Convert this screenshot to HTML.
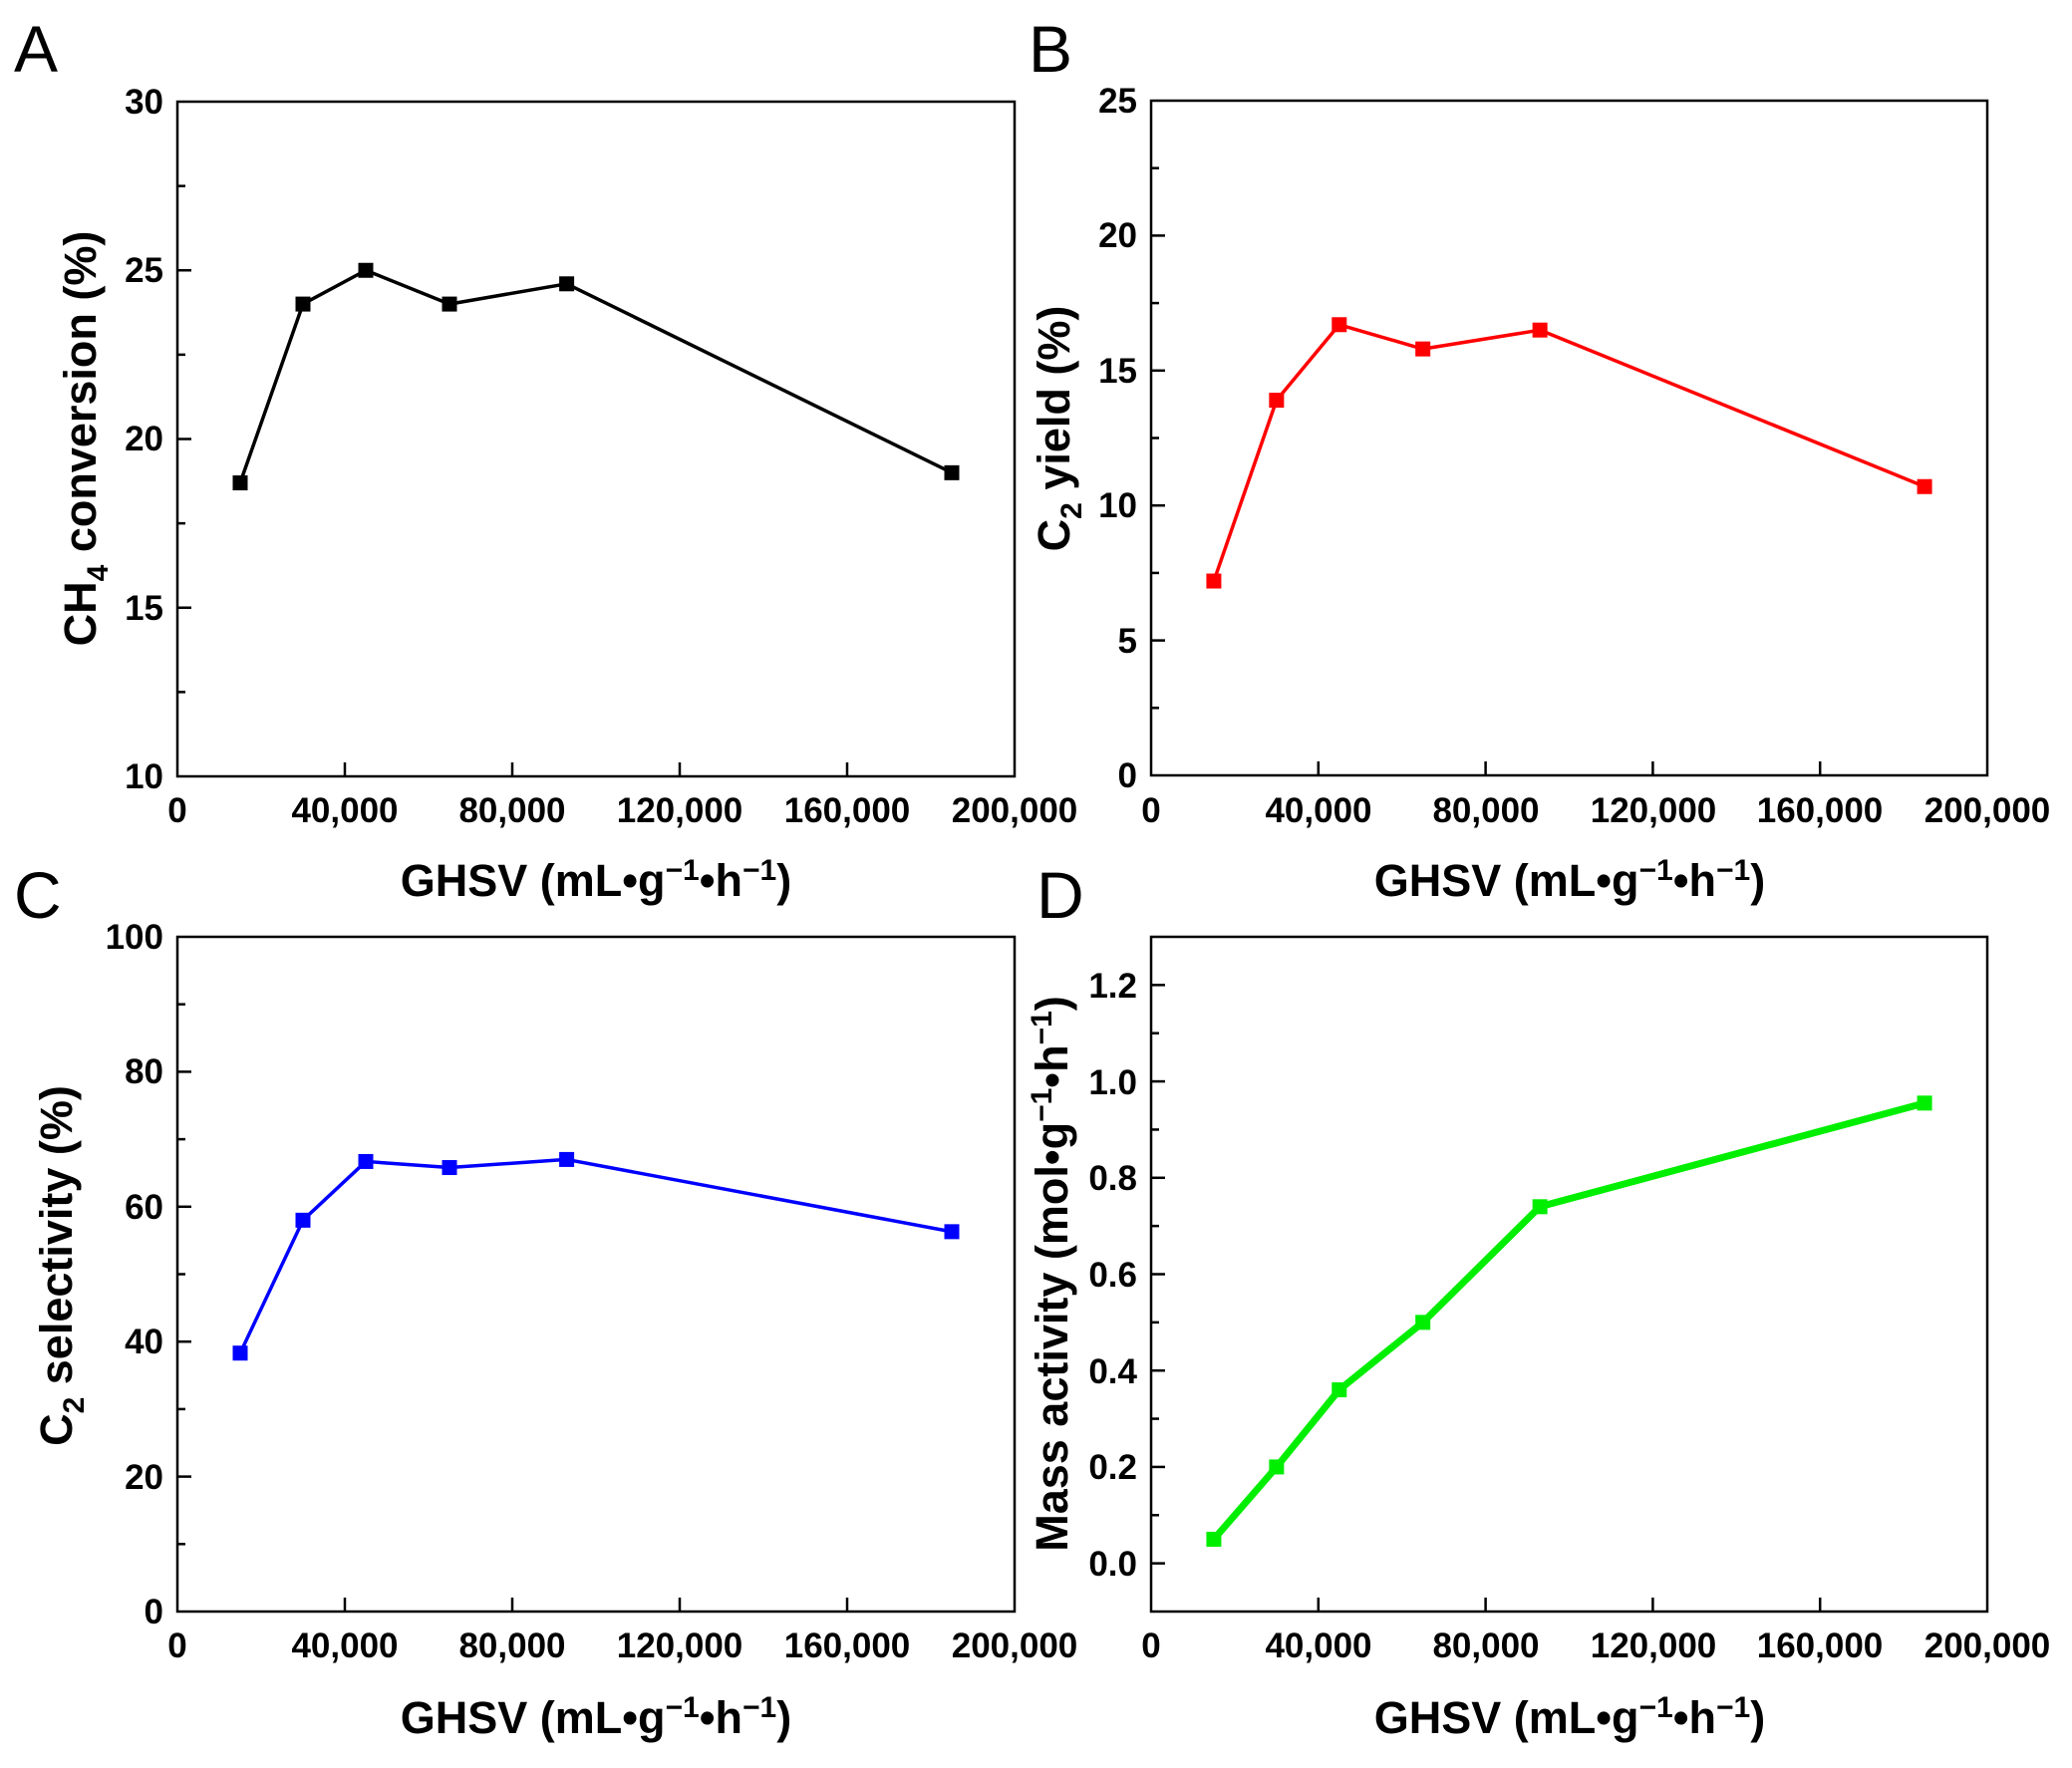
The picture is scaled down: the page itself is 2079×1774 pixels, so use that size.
<!DOCTYPE html>
<html><head><meta charset="utf-8"><style>
html,body{margin:0;padding:0;background:#fff;}
svg{display:block;}
text{font-family:"Liberation Sans",Arial,sans-serif;fill:#000;}
.t{font-size:35px;font-weight:bold;}
.ti{font-size:45px;font-weight:bold;}
.L{font-size:66px;}
</style></head><body>
<svg id="s" width="2079" height="1774" viewBox="0 0 2079 1774" xmlns="http://www.w3.org/2000/svg">
<rect width="2079" height="1774" fill="#fff"/>
<g id="g"></g>
<text class="L" x="14" y="72">A</text>
<text class="L" x="1032" y="72">B</text>
<text class="L" x="14" y="921">C</text>
<text class="L" x="1040" y="921">D</text>

<g class="t" text-anchor="end">
<text x="164" y="114">30</text><text x="164" y="283">25</text><text x="164" y="452">20</text><text x="164" y="622">15</text><text x="164" y="791">10</text>
<text x="1141" y="113">25</text><text x="1141" y="248">20</text><text x="1141" y="384">15</text><text x="1141" y="519">10</text><text x="1141" y="655">5</text><text x="1141" y="790">0</text>
<text x="164" y="952">100</text><text x="164" y="1087">80</text><text x="164" y="1223">60</text><text x="164" y="1358">40</text><text x="164" y="1494">20</text><text x="164" y="1629">0</text>
<text x="1141" y="1001">1.2</text><text x="1141" y="1098">1.0</text><text x="1141" y="1194">0.8</text><text x="1141" y="1291">0.6</text><text x="1141" y="1388">0.4</text><text x="1141" y="1484">0.2</text><text x="1141" y="1581">0.0</text>
</g>
<g class="t" text-anchor="middle">
<text x="178" y="825">0</text><text x="346" y="825">40,000</text><text x="514" y="825">80,000</text><text x="682" y="825">120,000</text><text x="850" y="825">160,000</text><text x="1018" y="825">200,000</text>
<text x="1155" y="825">0</text><text x="1323" y="825">40,000</text><text x="1491" y="825">80,000</text><text x="1659" y="825">120,000</text><text x="1826" y="825">160,000</text><text x="1994" y="825">200,000</text>
<text x="178" y="1663">0</text><text x="346" y="1663">40,000</text><text x="514" y="1663">80,000</text><text x="682" y="1663">120,000</text><text x="850" y="1663">160,000</text><text x="1018" y="1663">200,000</text>
<text x="1155" y="1663">0</text><text x="1323" y="1663">40,000</text><text x="1491" y="1663">80,000</text><text x="1659" y="1663">120,000</text><text x="1826" y="1663">160,000</text><text x="1994" y="1663">200,000</text>
</g>
<g class="ti" text-anchor="middle">
<text x="598" y="899">GHSV (mL•g<tspan dy="-16" font-size="30">−1</tspan><tspan dy="16">•h</tspan><tspan dy="-16" font-size="30">−1</tspan><tspan dy="16">)</tspan></text>
<text x="1575" y="899">GHSV (mL•g<tspan dy="-16" font-size="30">−1</tspan><tspan dy="16">•h</tspan><tspan dy="-16" font-size="30">−1</tspan><tspan dy="16">)</tspan></text>
<text x="598" y="1739">GHSV (mL•g<tspan dy="-16" font-size="30">−1</tspan><tspan dy="16">•h</tspan><tspan dy="-16" font-size="30">−1</tspan><tspan dy="16">)</tspan></text>
<text x="1575" y="1739">GHSV (mL•g<tspan dy="-16" font-size="30">−1</tspan><tspan dy="16">•h</tspan><tspan dy="-16" font-size="30">−1</tspan><tspan dy="16">)</tspan></text>
<text transform="translate(96,440) rotate(-90)">CH<tspan dy="12" font-size="30">4</tspan><tspan dy="-12"> conversion (%)</tspan></text>
<text transform="translate(1073,430) rotate(-90)">C<tspan dy="12" font-size="30">2</tspan><tspan dy="-12"> yield (%)</tspan></text>
<text transform="translate(72,1270) rotate(-90)">C<tspan dy="12" font-size="30">2</tspan><tspan dy="-12"> selectivity (%)</tspan></text>
<text transform="translate(1071,1278) rotate(-90)">Mass activity (mol•g<tspan dy="-16" font-size="30">−1</tspan><tspan dy="16">•h</tspan><tspan dy="-16" font-size="30">−1</tspan><tspan dy="16">)</tspan></text>
</g>
</svg>
<script>
var g=document.getElementById('g'),NS='http://www.w3.org/2000/svg';
function el(n,a){var e=document.createElementNS(NS,n);for(var k in a)e.setAttribute(k,a[k]);g.appendChild(e);return e;}
var xs=[15000,30000,45000,65000,93000,185000];
var P=[
 {x0:178,x1:1018,yt:102,yb:779,ymin:10,ymax:30,maj:5,min:2.5,c:'#000',w:3.5,d:[18.7,24,25,24,24.6,19]},
 {x0:1155,x1:1994,yt:101,yb:778,ymin:0,ymax:25,maj:5,min:2.5,c:'#ff0000',w:3.5,d:[7.2,13.9,16.7,15.8,16.5,10.7]},
 {x0:178,x1:1018,yt:940,yb:1617,ymin:0,ymax:100,maj:20,min:10,c:'#0000ff',w:3.5,d:[38.3,58,66.7,65.8,67,56.3]},
 {x0:1155,x1:1994,yt:940,yb:1617,ymin:-0.1,ymax:1.3,maj:0.2,min:0.1,c:'#00ee00',w:7,d:[0.05,0.2,0.36,0.5,0.74,0.955],st:0}
];
P.forEach(function(p){
 var X=function(v){return p.x0+(p.x1-p.x0)*v/200000;},Y=function(v){return p.yb-(p.yb-p.yt)*(v-p.ymin)/(p.ymax-p.ymin);};
 el('rect',{x:p.x0,y:p.yt,width:p.x1-p.x0,height:p.yb-p.yt,fill:'none',stroke:'#000','stroke-width':2.5});
 for(var v=40000;v<200000;v+=40000)el('line',{x1:X(v),x2:X(v),y1:p.yb,y2:p.yb-14,stroke:'#000','stroke-width':2.5});
 var s=(p.st!==undefined?p.st:p.ymin);
 var n=Math.round((p.ymax-s)/p.min);
 for(var i=0;i<=n;i++){var v=s+i*p.min;if(v<=p.ymin+1e-9||v>=p.ymax-1e-9)continue;var mj=Math.abs(v/p.maj-Math.round(v/p.maj))<1e-6;
  el('line',{x1:p.x0,x2:p.x0+(mj?14:8),y1:Y(v),y2:Y(v),stroke:'#000','stroke-width':2.5});}
 var pts=xs.map(function(x,i){return X(x)+','+Y(p.d[i]);}).join(' ');
 el('polyline',{points:pts,fill:'none',stroke:p.c,'stroke-width':p.w,'stroke-linejoin':'round'});
 xs.forEach(function(x,i){el('rect',{x:X(x)-7.5,y:Y(p.d[i])-7.5,width:15,height:15,fill:p.c});});
});
</script>
</body></html>
